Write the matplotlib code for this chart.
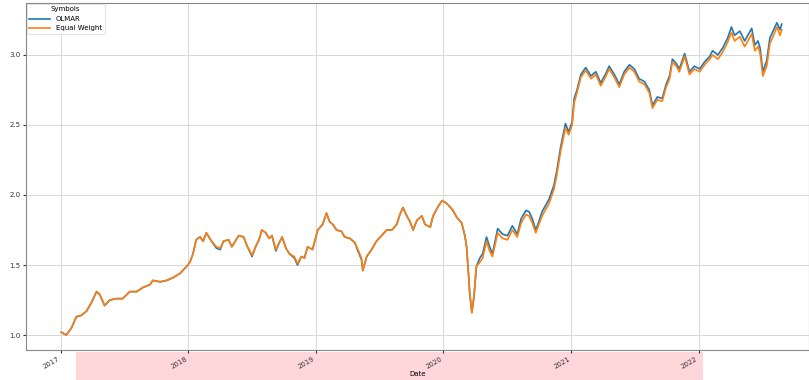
import pandas as pd
import matplotlib
matplotlib.use('Agg')
import matplotlib.pyplot as plt
from matplotlib.patches import Rectangle

dates = [
    '2017-01-03', '2017-01-17', '2017-02-01', '2017-02-15', '2017-03-01', '2017-03-16',
    '2017-03-30', '2017-04-14', '2017-04-23', '2017-05-07', '2017-05-22', '2017-06-10',
    '2017-06-28', '2017-07-18', '2017-08-07', '2017-08-25', '2017-09-14', '2017-09-22',
    '2017-10-13', '2017-11-01', '2017-11-19', '2017-12-09', '2017-12-28',
    '2018-01-06', '2018-01-15', '2018-01-24', '2018-02-04', '2018-02-13', '2018-02-22',
    '2018-03-09', '2018-03-23', '2018-04-03', '2018-04-12', '2018-04-27', '2018-05-06',
    '2018-05-16', '2018-05-26', '2018-06-09', '2018-06-18', '2018-07-03', '2018-07-13',
    '2018-07-23', '2018-07-31', '2018-08-11', '2018-08-21', '2018-08-29', '2018-09-09',
    '2018-09-19', '2018-09-27', '2018-10-08', '2018-10-18', '2018-11-01', '2018-11-10',
    '2018-11-21', '2018-11-30', '2018-12-09', '2018-12-23',
    '2019-01-07', '2019-01-21', '2019-02-01', '2019-02-10', '2019-02-19', '2019-03-02',
    '2019-03-16', '2019-03-25', '2019-04-09', '2019-04-23', '2019-05-02', '2019-05-12',
    '2019-05-16', '2019-05-27', '2019-06-10', '2019-06-24', '2019-07-09', '2019-07-23',
    '2019-08-07', '2019-08-21', '2019-08-30', '2019-09-08', '2019-09-19', '2019-09-28',
    '2019-10-07', '2019-10-18', '2019-11-01', '2019-11-10', '2019-11-25', '2019-12-03',
    '2019-12-18', '2019-12-29',
    '2020-01-11', '2020-01-15', '2020-01-29', '2020-02-09', '2020-02-23', '2020-03-03',
    '2020-03-08', '2020-03-12', '2020-03-17', '2020-03-23', '2020-03-29', '2020-04-05',
    '2020-04-15', '2020-04-23', '2020-05-04', '2020-05-13', '2020-05-21', '2020-06-05',
    '2020-06-19', '2020-07-03', '2020-07-17', '2020-07-31', '2020-08-11', '2020-08-25',
    '2020-09-03', '2020-09-12', '2020-09-22', '2020-10-01', '2020-10-10', '2020-10-21',
    '2020-10-30', '2020-11-13', '2020-11-21', '2020-12-02', '2020-12-11', '2020-12-16',
    '2020-12-25',
    '2021-01-04', '2021-01-10', '2021-01-18', '2021-01-29', '2021-02-12', '2021-02-27',
    '2021-03-13', '2021-03-27', '2021-04-11', '2021-04-20', '2021-05-05', '2021-05-19',
    '2021-06-02', '2021-06-17', '2021-07-01', '2021-07-15', '2021-07-30', '2021-08-13',
    '2021-08-22', '2021-09-05', '2021-09-19', '2021-09-30', '2021-10-10', '2021-10-18',
    '2021-10-29', '2021-11-07', '2021-11-22', '2021-12-06', '2021-12-20',
    '2022-01-04', '2022-01-18', '2022-02-02', '2022-02-10', '2022-02-25', '2022-03-11',
    '2022-03-25', '2022-04-05', '2022-04-14', '2022-04-29', '2022-05-13', '2022-05-22',
    '2022-06-02', '2022-06-11', '2022-06-20', '2022-06-26', '2022-07-04', '2022-07-15',
    '2022-07-24', '2022-08-02', '2022-08-13', '2022-08-22', '2022-08-27',
]

equal_weight = [
    1.02, 1.00, 1.05, 1.13, 1.14, 1.17, 1.23, 1.31, 1.29, 1.21, 1.25, 1.26,
    1.26, 1.31, 1.31, 1.34, 1.36, 1.39, 1.38, 1.39, 1.41, 1.44, 1.49,
    1.52, 1.58, 1.68, 1.70, 1.67, 1.73, 1.67, 1.63, 1.62, 1.67, 1.68, 1.63,
    1.67, 1.71, 1.70, 1.64, 1.57, 1.63, 1.68, 1.75, 1.73, 1.69, 1.71, 1.61,
    1.66, 1.70, 1.62, 1.58, 1.56, 1.51, 1.56, 1.55, 1.63, 1.61,
    1.75, 1.79, 1.87, 1.81, 1.79, 1.75, 1.74, 1.70, 1.69, 1.66, 1.61, 1.55,
    1.46, 1.56, 1.61, 1.67, 1.71, 1.75, 1.75, 1.79, 1.86, 1.91, 1.85, 1.81,
    1.75, 1.82, 1.85, 1.79, 1.77, 1.85, 1.92, 1.96,
    1.94, 1.93, 1.89, 1.84, 1.80, 1.71, 1.63, 1.49, 1.30, 1.16, 1.27, 1.49,
    1.52, 1.55, 1.67, 1.60, 1.56, 1.73, 1.69, 1.68, 1.75, 1.70, 1.80, 1.86,
    1.85, 1.80, 1.73, 1.79, 1.85, 1.90, 1.94, 2.04, 2.14, 2.31, 2.42, 2.48,
    2.43,
    2.50, 2.66, 2.73, 2.84, 2.89, 2.83, 2.86, 2.78, 2.85, 2.90, 2.84, 2.77,
    2.86, 2.91, 2.88, 2.81, 2.79, 2.73, 2.62, 2.68, 2.67, 2.77, 2.83, 2.95,
    2.92, 2.88, 2.99, 2.86, 2.90,
    2.88, 2.93, 2.97, 3.00, 2.97, 3.02, 3.09, 3.16, 3.10, 3.13, 3.06, 3.10,
    3.15, 3.03, 3.06, 3.01, 2.85, 2.92, 3.08, 3.13, 3.20, 3.14, 3.18,
]

olmar = [
    1.02, 1.00, 1.05, 1.13, 1.14, 1.17, 1.23, 1.31, 1.29, 1.21, 1.25, 1.26,
    1.26, 1.31, 1.31, 1.34, 1.36, 1.39, 1.38, 1.39, 1.41, 1.44, 1.49,
    1.52, 1.58, 1.68, 1.70, 1.67, 1.73, 1.67, 1.62, 1.61, 1.67, 1.68, 1.63,
    1.67, 1.71, 1.70, 1.64, 1.56, 1.63, 1.68, 1.75, 1.73, 1.69, 1.71, 1.60,
    1.66, 1.70, 1.62, 1.58, 1.55, 1.50, 1.56, 1.55, 1.63, 1.61,
    1.75, 1.79, 1.87, 1.81, 1.79, 1.75, 1.74, 1.70, 1.69, 1.66, 1.60, 1.54,
    1.46, 1.56, 1.61, 1.67, 1.71, 1.75, 1.75, 1.79, 1.86, 1.91, 1.85, 1.81,
    1.75, 1.82, 1.85, 1.79, 1.77, 1.85, 1.92, 1.96,
    1.94, 1.93, 1.89, 1.84, 1.80, 1.71, 1.63, 1.49, 1.30, 1.16, 1.27, 1.49,
    1.55, 1.58, 1.70, 1.63, 1.58, 1.76, 1.72, 1.71, 1.78, 1.72, 1.83, 1.89,
    1.88, 1.83, 1.75, 1.81, 1.88, 1.93, 1.97, 2.07, 2.17, 2.34, 2.45, 2.51,
    2.45,
    2.52, 2.69, 2.75, 2.86, 2.91, 2.85, 2.88, 2.80, 2.87, 2.92, 2.86, 2.79,
    2.88, 2.93, 2.90, 2.83, 2.81, 2.75, 2.64, 2.70, 2.69, 2.79, 2.85, 2.97,
    2.94, 2.90, 3.01, 2.88, 2.92,
    2.90, 2.95, 2.99, 3.03, 3.00, 3.05, 3.12, 3.20, 3.14, 3.17, 3.10, 3.14,
    3.19, 3.07, 3.10, 3.05, 2.88, 2.96, 3.12, 3.17, 3.23, 3.18, 3.22,
]

df = pd.DataFrame({'OLMAR': olmar, 'Equal Weight': equal_weight},
                  index=pd.to_datetime(dates))
df.index.name = 'Date'
df.columns.name = 'Symbols'

fig = plt.figure(figsize=(8.09, 3.8), dpi=100)

# pink highlight strip under the x axis
fig.add_artist(Rectangle((76 / 809, 0), (703 - 76) / 809, 28 / 380,
                         transform=fig.transFigure, facecolor='#ffd6da',
                         edgecolor='none', zorder=-1))

ax = fig.add_axes([26 / 809, 30 / 380, (809 - 26) / 809, (377 - 30) / 380])
ax.plot(df.index, df['OLMAR'], color='#1f77b4', lw=1.2, label='OLMAR')
ax.plot(df.index, df['Equal Weight'], color='#ff7f0e', lw=1.2, label='Equal Weight')

ax.set_xlim(pd.Timestamp('2016-09-24'), pd.Timestamp('2022-11-13'))
ax.set_ylim(0.893, 3.371)
ax.set_yticks([1.0, 1.5, 2.0, 2.5, 3.0])
ax.set_xticks(pd.to_datetime(['2017-01-01', '2018-01-01', '2019-01-01',
                              '2020-01-01', '2021-01-01', '2022-01-01']))
ax.set_xticklabels(['2017', '2018', '2019', '2020', '2021', '2022'],
                   rotation=30, ha='right', fontsize=5)
ax.tick_params(axis='both', colors='#333333', length=2, pad=2)
ax.tick_params(axis='y', labelsize=5)
ax.grid(True, color='#d8d8d8', lw=0.7)
for s in ax.spines.values():
    s.set_color('#888888')
ax.set_xlabel('Date', fontsize=5, labelpad=1)

leg = ax.legend(title='Symbols', loc='upper left', fontsize=5, title_fontsize=5,
                borderaxespad=0.1, handlelength=3, framealpha=1)
leg.get_frame().set_edgecolor('#dddddd')
leg.get_frame().set_linewidth(0.6)

plt.savefig('out.png', dpi=100)
plt.close()
